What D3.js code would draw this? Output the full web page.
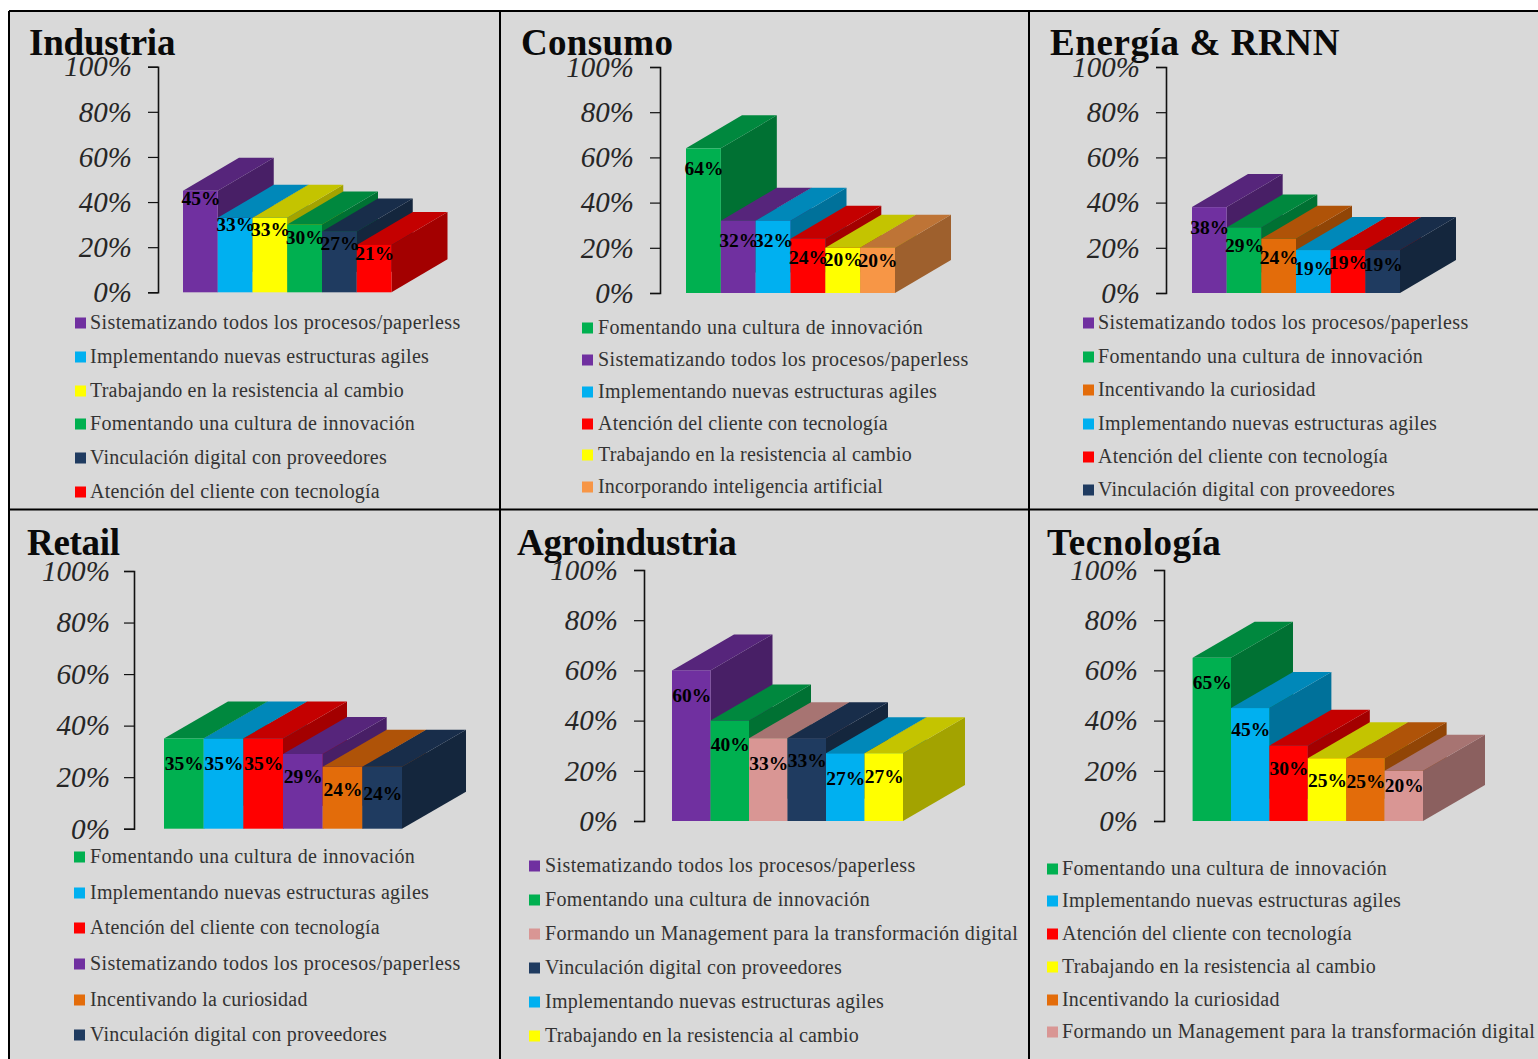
<!DOCTYPE html>
<html><head><meta charset="utf-8">
<script src="https://cdn.jsdelivr.net/npm/d3@7/dist/d3.min.js"></script>
<style>html,body{margin:0;padding:0;background:#fff}svg{display:block}</style></head>
<body><svg id="c" width="1538" height="1059"></svg>
<script>
// Data
const SIS="Sistematizando todos los procesos/paperless",IMP="Implementando nuevas estructuras agiles",
TRA="Trabajando en la resistencia al cambio",FOM="Fomentando una cultura de innovación",
VIN="Vinculación digital con proveedores",ATE="Atención del cliente con tecnología",
INC="Incentivando la curiosidad",ART="Incorporando inteligencia artificial",
MAN="Formando un Management para la transformación digital";
const panelTitles=["Industria","Consumo","Energía & RRNN","Retail","Agroindustria","Tecnología"];
const tickValues=[0,20,40,60,80,100];
const industriaCats=[SIS,IMP,TRA,FOM,VIN,ATE], industriaVals=[45,33,33,30,27,21];
const consumoCats=[FOM,SIS,IMP,ATE,TRA,ART], consumoVals=[64,32,32,24,20,20];
const energiaCats=[SIS,FOM,INC,IMP,ATE,VIN], energiaVals=[38,29,24,19,19,19];
const retailCats=[FOM,IMP,ATE,SIS,INC,VIN], retailVals=[35,35,35,29,24,24];
const agroCats=[SIS,FOM,MAN,VIN,IMP,TRA], agroVals=[60,40,33,33,27,27];
const tecCats=[FOM,IMP,ATE,TRA,INC,MAN], tecVals=[65,45,30,25,25,20];
const catColor=new Map([[SIS,"#7030a0"],[IMP,"#00b0f0"],[TRA,"#ffff00"],[FOM,"#00b050"],[VIN,"#1f3b60"],[ATE,"#ff0000"],[INC,"#e36c0a"],[ART,"#f79646"],[MAN,"#d99694"]]);
const catSpacing=new Map([[SIS,0.39],[IMP,0.25],[TRA,0.2],[FOM,0.36],[VIN,0.22],[ATE,0.19],[INC,0.21],[ART,0.17],[MAN,0.29]]);

// Layout
const layout=[
 {cats:industriaCats,vals:industriaVals,tx:29,ty:54.5,tls:-0.2,ax:158,y100:66.7,y0:292.3,bx0:183,bx1:391.5,dx:56,dy:33,fs:29,pad:16,lm:75,lt:90,
  ly:[323,357,391,424,458,492],off:[7,6,11,13,12,8]},
 {cats:consumoCats,vals:consumoVals,tx:521,ty:54.5,tls:0.3,ax:660,y100:67,y0:293,bx0:686,bx1:895,dx:56,dy:33,fs:29,pad:16,lm:582,lt:598,
  ly:[328,360,392,424,455,487],off:[20,19,19,18,11,12]},
 {cats:energiaCats,vals:energiaVals,tx:1050,ty:54.5,tls:0.6,ax:1166,y100:67,y0:293,bx0:1192,bx1:1400,dx:56,dy:33,fs:29,pad:16,lm:1083,lt:1098,
  ly:[323,357,390,424,457,490],off:[20,18,18,18,12,14]},
 {cats:retailCats,vals:retailVals,tx:27,ty:554.5,tls:-0.3,ax:134,y100:571,y0:828.7,bx0:164,bx1:402,dx:64,dy:37,fs:29.2,pad:14,lm:74,lt:90,
  ly:[857,893,928,964,1000,1035],off:[25,25,25,22,22,26]},
 {cats:agroCats,vals:agroVals,tx:517,ty:554.5,tls:-0.3,ax:644,y100:570,y0:821,bx0:672,bx1:903,dx:62,dy:36,fs:29,pad:16,lm:529,lt:545,
  ly:[866,900,934,968,1002,1036],off:[25,24,25,22,25,23]},
 {cats:tecCats,vals:tecVals,tx:1047,ty:554.5,tls:0.5,ax:1164,y100:570,y0:821,bx0:1192.6,bx1:1423,dx:62,dy:36,fs:29,pad:16,lm:1047,lt:1062,
  ly:[869,901,934,967,1000,1032],off:[24,21,22,22,23,14]}
];
const serif='"Liberation Serif",serif';
const shade=(c,k)=>{const r=d3.rgb(c);return d3.rgb(r.r*k,r.g*k,r.b*k).formatHex();};
const svg=d3.select("#c");
svg.append("rect").attr("x",9).attr("y",11).attr("width",1529).attr("height",1048).attr("fill","#d9d9d9");

layout.forEach((p,i)=>{
  const g=svg.append("g");
  const y=d3.scaleLinear().domain([0,100]).range([p.y0,p.y100]);
  const x=d3.scaleBand().domain(p.cats).range([p.bx0,p.bx1]);
  g.append("text").attr("x",p.tx).attr("y",p.ty).text(panelTitles[i]).attr("letter-spacing",p.tls)
   .attr("font-family",serif).attr("font-weight","bold").attr("font-size",37).attr("fill","#0a0a0a");
  // axis
  const axis=g.append("g").attr("transform",`translate(${p.ax},0)`)
    .call(d3.axisLeft(y).tickValues(tickValues).tickFormat(d=>d+"%").tickSize(10).tickPadding(p.pad));
  axis.selectAll("path").attr("stroke","#111").attr("stroke-width",1.6).attr("fill","none");
  axis.selectAll("line").attr("stroke","#111").attr("stroke-width",1.2);
  axis.selectAll("text").attr("font-family",serif).attr("font-style","italic").attr("font-size",p.fs).attr("fill","#262626");
  // bars
  const bw=x.bandwidth();
  p.cats.forEach((c,j)=>{
    const col=catColor.get(c),v=p.vals[j],x0=x(c),x1=x0+bw,yt=y(v),yb=y(0);
    const pts=a=>a.map(q=>q.join(",")).join(" ");
    g.append("polygon").attr("points",pts([[x1,yt],[x1+p.dx,yt-p.dy],[x1+p.dx,yb-p.dy],[x1,yb]]))
      .attr("fill",shade(col,0.64));
    g.append("polygon").attr("points",pts([[x0,yt],[x0+p.dx,yt-p.dy],[x1+p.dx,yt-p.dy],[x1,yt]]))
      .attr("fill",shade(col,0.77));
    g.append("rect").attr("x",x0).attr("y",yt).attr("width",bw).attr("height",yb-yt).attr("fill",col);
  });
  p.cats.forEach((c,j)=>{
    g.append("text").attr("x",x(c)+bw/2+0.5).attr("y",y(p.vals[j])+p.off[j]).attr("dy","0.35em")
     .attr("text-anchor","middle").attr("font-family",serif).attr("font-weight","bold").attr("font-size",19.5)
     .attr("fill","#000").text(p.vals[j]+"%");
  });
  // legend
  p.cats.forEach((c,j)=>{
    g.append("rect").attr("x",p.lm).attr("y",p.ly[j]-5.5).attr("width",11).attr("height",11).attr("fill",catColor.get(c));
    g.append("text").attr("x",p.lt).attr("y",p.ly[j]).attr("dy","0.32em").text(c)
     .attr("font-family",serif).attr("font-size",20).attr("letter-spacing",catSpacing.get(c)).attr("fill","#333");
  });
});
// Grid lines
[[9,9,11,1059],[500,500,11,1059],[1029,1029,11,1059],[9,1538,11,11],[9,1538,509.5,509.5]].forEach(l=>{
  svg.append("line").attr("x1",l[0]).attr("x2",l[1]).attr("y1",l[2]).attr("y2",l[3]).attr("stroke","#000").attr("stroke-width",2);
});
</script></body></html>
